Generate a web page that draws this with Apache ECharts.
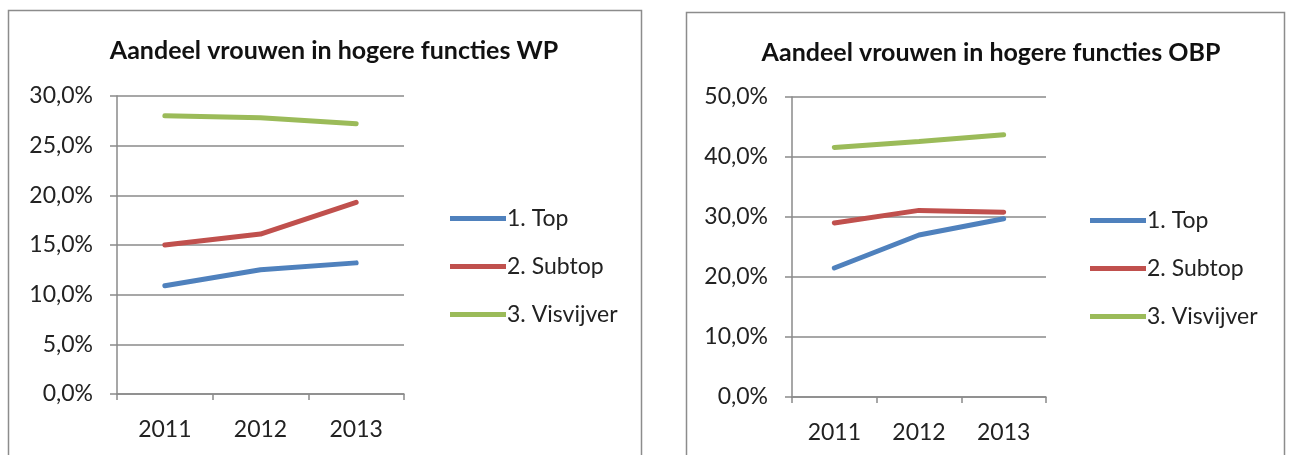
<!DOCTYPE html>
<html>
<head>
<meta charset="utf-8">
<script src="https://cdn.jsdelivr.net/npm/echarts@6/dist/echarts.min.js"></script>
<style>
	html, body { margin: 0; padding: 0; background: #fff; }
	#chart { width: 1290px; height: 455px; }
</style>
</head>
<body>
<div id="chart"></div>
<script type="text/javascript">
	// data (percent)
	var years = ['2011', '2012', '2013'];
	var seriesNames = ['1. Top', '2. Subtop', '3. Visvijver'];
	var wpTop = [10.9, 12.5, 13.2];
	var wpSubtop = [15.0, 16.1, 19.3];
	var wpVisvijver = [28.0, 27.8, 27.2];
	var obpTop = [21.5, 27.0, 29.7];
	var obpSubtop = [29.0, 31.1, 30.8];
	var obpVisvijver = [41.6, 42.6, 43.7];
	var titles = ['Aandeel vrouwen in hogere functies WP', 'Aandeel vrouwen in hogere functies OBP'];

	var colors = ['#4F81BD', '#C0504D', '#9BBB59'];
	var font = 'Lato';
	var gridColor = '#8a8a8a';

	function pct(v) { return v.toFixed(1).replace('.', ',') + '%'; }

	function xAxis(idx) {
		return {
			type: 'category', gridIndex: idx, data: years, boundaryGap: true,
			axisLine: { lineStyle: { color: gridColor, width: 1.5 } },
			axisTick: { show: true, length: 6, lineStyle: { color: gridColor, width: 1.5 } },
			axisLabel: { color: '#222', fontFamily: font, fontSize: 23, margin: 24 }
		};
	}
	function yAxis(idx, max, interval) {
		return {
			type: 'value', gridIndex: idx, min: 0, max: max, interval: interval,
			axisLine: { show: true, lineStyle: { color: gridColor, width: 1.5 } },
			axisTick: { show: true, length: 7, lineStyle: { color: gridColor, width: 1.5 } },
			splitLine: { lineStyle: { color: gridColor, width: 1.5 } },
			axisLabel: { color: '#222', fontFamily: font, fontSize: 23, margin: 24, formatter: pct }
		};
	}
	function line(name, data, idx, c) {
		return {
			name: name, type: 'line', xAxisIndex: idx, yAxisIndex: idx, data: data,
			symbol: 'none', lineStyle: { width: 5, color: colors[c], cap: 'round' },
			itemStyle: { color: colors[c] }
		};
	}
	function legend(left, top) {
		return {
			orient: 'vertical', left: left, top: top, data: seriesNames,
			icon: 'rect', itemWidth: 56, itemHeight: 5, itemGap: 25,
			selectedMode: false,
			textStyle: { color: '#222', fontFamily: font, fontSize: 23, padding: [0, 0, 0, -4] }
		};
	}

	var chart = echarts.init(document.getElementById('chart'));
	chart.setOption({
		animation: false,
		graphic: [
			{ type: 'rect', shape: { x: 8.5, y: 10.5, width: 633, height: 460 }, style: { fill: 'none', stroke: '#8c8c8c', lineWidth: 1.5 } },
			{ type: 'rect', shape: { x: 686.5, y: 12.5, width: 598, height: 460 }, style: { fill: 'none', stroke: '#8c8c8c', lineWidth: 1.5 } }
		],
		title: [
			{ text: titles[0], left: 329, top: 33, textAlign: 'center', textStyle: { fontFamily: font, fontWeight: 'bold', fontSize: 25, color: '#111' } },
			{ text: titles[1], left: 986, top: 35, textAlign: 'center', textStyle: { fontFamily: font, fontWeight: 'bold', fontSize: 25, color: '#111' } }
		],
		legend: [legend(445, 202), legend(1085, 204)],
		grid: [
			{ left: 117, top: 96, width: 287, height: 298 },
			{ left: 792, top: 97, width: 254, height: 300 }
		],
		xAxis: [xAxis(0), xAxis(1)],
		yAxis: [yAxis(0, 30, 5), yAxis(1, 50, 10)],
		series: [
			line(seriesNames[0], wpTop, 0, 0),
			line(seriesNames[1], wpSubtop, 0, 1),
			line(seriesNames[2], wpVisvijver, 0, 2),
			line(seriesNames[0], obpTop, 1, 0),
			line(seriesNames[1], obpSubtop, 1, 1),
			line(seriesNames[2], obpVisvijver, 1, 2)
		]
	});
</script>
</body>
</html>
